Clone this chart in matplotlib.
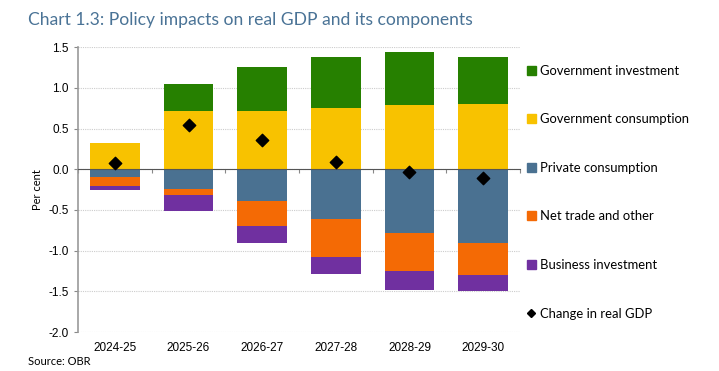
import numpy as np
import matplotlib.pyplot as plt
from matplotlib.lines import Line2D
from matplotlib.patches import Patch
from matplotlib.transforms import blended_transform_factory

years = ['2024-25', '2025-26', '2026-27', '2027-28', '2028-29', '2029-30']

gov_inv = [0.00, 0.33, 0.55, 0.63, 0.65, 0.58]
gov_cons = [0.32, 0.72, 0.71, 0.75, 0.79, 0.80]
priv_cons = [-0.10, -0.24, -0.39, -0.61, -0.78, -0.91]
net_trade = [-0.11, -0.08, -0.31, -0.47, -0.47, -0.39]
bus_inv = [-0.04, -0.19, -0.21, -0.21, -0.23, -0.20]
gdp = [0.08, 0.545, 0.36, 0.09, -0.04, -0.11]

c_green = '#268000'
c_yellow = '#F8C200'
c_blue = '#4A7191'
c_orange = '#F46A05'
c_purple = '#7030A0'

plt.rcParams['font.family'] = ['Lato', 'DejaVu Sans']

fig = plt.figure(figsize=(7.19, 3.71), dpi=100)
ax = fig.add_axes([0.1085, 0.105, 0.6147, 0.768])

x = np.arange(len(years))
w = 0.67

ax.bar(x, gov_cons, w, color=c_yellow, zorder=2)
ax.bar(x, gov_inv, w, bottom=gov_cons, color=c_green, zorder=2)
ax.bar(x, priv_cons, w, color=c_blue, zorder=2)
neg1 = np.array(priv_cons)
ax.bar(x, net_trade, w, bottom=neg1, color=c_orange, zorder=2)
neg2 = neg1 + np.array(net_trade)
ax.bar(x, bus_inv, w, bottom=neg2, color=c_purple, zorder=2)
ax.scatter(x, gdp, marker='D', s=40, color='black', zorder=4)

ax.set_xlim(-0.5, len(years) - 0.5)
ax.set_ylim(-2.0, 1.5)
ax.set_yticks(np.arange(-2.0, 1.51, 0.5))
ax.set_yticklabels(['%.1f' % v for v in np.arange(-2.0, 1.51, 0.5)],
                   family='Liberation Sans', fontsize=8.5)
ax.yaxis.grid(True, color='#cccccc', linestyle=(0, (1, 1)), linewidth=0.8, zorder=0)

for s in ['top', 'right']:
    ax.spines[s].set_visible(False)
ax.spines['left'].set_color('#999999')
ax.spines['left'].set_linewidth(1.2)
ax.spines['bottom'].set_position(('data', 0))
ax.spines['bottom'].set_color('#555555')
ax.spines['bottom'].set_zorder(3)
ax.set_xticks(np.arange(-0.5, len(years), 1.0))
ax.set_xticklabels([])
ax.tick_params(axis='x', length=3, color='#888888')
ax.tick_params(axis='y', length=3, color='#888888')

tr = blended_transform_factory(ax.transData, ax.transAxes)
for xi, lab in zip(x, years):
    ax.text(xi, -0.035, lab, transform=tr, ha='center', va='top',
            family='Liberation Sans', fontsize=8.5)

ax.set_ylabel('Per cent', fontsize=8, labelpad=4)

handles = [Patch(color=c_green), Patch(color=c_yellow), Patch(color=c_blue),
           Patch(color=c_orange), Patch(color=c_purple),
           Line2D([], [], marker='D', color='black', linestyle='none', markersize=4)]
labels = ['Government investment', 'Government consumption', 'Private consumption',
          'Net trade and other', 'Business investment', 'Change in real GDP']
fig.legend(handles, labels, loc='upper left', bbox_to_anchor=(0.716, 0.857),
           frameon=False, fontsize=9.4, handlelength=0.7, handleheight=0.7,
           handletextpad=0.35, labelspacing=2.8)

fig.text(0.039, 0.945, 'Chart 1.3: Policy impacts on real GDP and its components',
         color='#4A7396', fontsize=12.6, va='center')
fig.text(0.039, 0.025, 'Source: OBR', fontsize=8, va='center')

fig.savefig('out.png', dpi=100)
